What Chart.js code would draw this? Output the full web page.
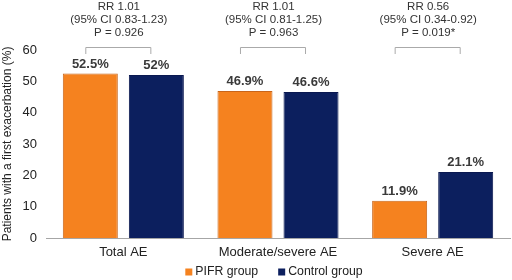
<!DOCTYPE html>
<html>
<head>
<meta charset="utf-8">
<script src="https://cdn.jsdelivr.net/npm/chart.js@4"></script>
<style>
  html, body { margin: 0; padding: 0; background: #fff; }
  #wrap { width: 512px; height: 280px; }
</style>
</head>
<body>
<div id="wrap"><canvas id="chart" width="512" height="280"></canvas></div>
<script>
// Data
const categories = ['Total AE', 'Moderate/severe AE', 'Severe AE'];
const pifrValues = [52.5, 46.9, 11.9];
const controlValues = [52, 46.6, 21.1];
const yTicks = [0, 10, 20, 30, 40, 50, 60];
const rrLines = ['RR 1.01', 'RR 1.01', 'RR 0.56'];
const ciLines = ['(95% CI 0.83-1.23)', '(95% CI 0.81-1.25)', '(95% CI 0.34-0.92)'];
const pLines = ['P = 0.926', 'P = 0.963', 'P = 0.019*'];

const FONT = '"Liberation Sans", Arial, sans-serif';
const ORANGE = '#F5821F';
const NAVY = '#0C1F5E';

// Value labels above bars
const valueLabels = {
    id: 'valueLabels',
    afterDatasetsDraw(chart) {
        const ctx = chart.ctx;
        ctx.save();
        ctx.font = 'bold 13px ' + FONT;
        ctx.fillStyle = '#3a3a3a';
        ctx.textAlign = 'center';
        ctx.textBaseline = 'bottom';
        chart.data.datasets.forEach((ds, i) => {
            chart.getDatasetMeta(i).data.forEach((bar, j) => {
                ctx.fillText(ds.data[j] + '%', bar.x, bar.y - 3);
            });
        });
        ctx.restore();
    }
};

// RR / CI / P text and brackets above each group
const statNotes = {
    id: 'statNotes',
    afterDraw(chart) {
        const ctx = chart.ctx;
        const a = chart.getDatasetMeta(0).data;
        const b = chart.getDatasetMeta(1).data;
        ctx.save();
        ctx.font = '11.5px ' + FONT;
        ctx.fillStyle = '#333';
        ctx.textAlign = 'center';
        ctx.textBaseline = 'middle';
        categories.forEach((c, i) => {
            const x1 = a[i].x - 5;
            const x2 = b[i].x - 6;
            const cx = (x1 + x2) / 2 + 1;
            ctx.fillText(rrLines[i], cx, 7);
            ctx.fillText(ciLines[i], cx, 20);
            ctx.fillText(pLines[i], cx, 33);
            ctx.strokeStyle = '#aaa';
            ctx.lineWidth = 1;
            ctx.beginPath();
            ctx.moveTo(x1 + 0.5, 54);
            ctx.lineTo(x1 + 0.5, 47.5);
            ctx.lineTo(x2 + 0.5, 47.5);
            ctx.lineTo(x2 + 0.5, 54);
            ctx.stroke();
        });
        ctx.restore();
    }
};

// Compact legend under the x labels
const bottomLegend = {
    id: 'bottomLegend',
    afterDraw(chart) {
        const ctx = chart.ctx;
        const area = chart.chartArea;
        ctx.save();
        ctx.font = '12.3px ' + FONT;
        ctx.textBaseline = 'middle';
        ctx.textAlign = 'left';
        const items = chart.data.datasets.map(ds => ({
            ds, w: 7 + 3 + ctx.measureText(ds.label).width
        }));
        const gap = 20;
        const total = items.reduce((s, it) => s + it.w, 0) + gap * (items.length - 1);
        let x = (area.left + area.right) / 2 - total / 2 - 4;
        const y = 272;
        items.forEach(it => {
            ctx.fillStyle = it.ds.backgroundColor;
            ctx.fillRect(x, y - 3.5, 7, 7);
            ctx.fillStyle = '#222';
            ctx.fillText(it.ds.label, x + 10, y);
            x += it.w + gap;
        });
        ctx.restore();
    }
};

const ctx = document.getElementById('chart').getContext('2d');
new Chart(ctx, {
    type: 'bar',
    data: {
        labels: categories,
        datasets: [{
            label: 'PIFR group',
            data: pifrValues,
            backgroundColor: ORANGE,
            borderColor: '#C8651A',
            borderWidth: 1
        }, {
            label: 'Control group',
            data: controlValues,
            backgroundColor: NAVY,
            borderColor: '#0A1850',
            borderWidth: 1
        }]
    },
    options: {
        responsive: false,
        animation: false,
        categoryPercentage: 0.854,
        barPercentage: 0.833,
        layout: { padding: { top: 50, right: 2, left: 0, bottom: 0 } },
        plugins: {
            legend: { display: false },
            tooltip: { enabled: false }
        },
        scales: {
            x: {
                grid: { display: false, drawTicks: false },
                border: { color: '#a6a6a6', width: 1 },
                afterFit(axis) { axis.height = 42; },
                ticks: {
                    font: { family: FONT, size: 13 },
                    color: '#222',
                    padding: 7
                }
            },
            y: {
                min: 0,
                max: 60,
                afterBuildTicks(axis) {
                    axis.ticks = yTicks.map(v => ({ value: v }));
                },
                afterFit(axis) { axis.width = 46; },
                grid: { display: false, drawTicks: false },
                border: { display: false },
                ticks: {
                    font: { family: FONT, size: 13 },
                    color: '#222',
                    padding: 9
                },
                title: {
                    display: true,
                    text: 'Patients with a first exacerbation (%)',
                    font: { family: FONT, size: 12 },
                    color: '#222',
                    padding: 0
                }
            }
        }
    },
    plugins: [valueLabels, statNotes, bottomLegend]
});
</script>
</body>
</html>
